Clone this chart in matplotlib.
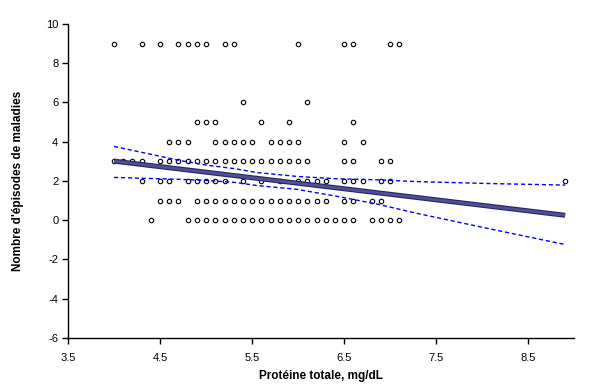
import numpy as np
import matplotlib
matplotlib.use("Agg")
import matplotlib.pyplot as plt

plt.rcParams['font.family'] = ['Liberation Sans', 'DejaVu Sans']
plt.rcParams['axes.unicode_minus'] = False

# points, grouped by y value
x_9 = [4.0, 4.3, 4.5, 4.7, 4.8, 4.9, 5.0, 5.2, 5.3, 6.0, 6.5, 6.6, 7.0, 7.1]
x_6 = [5.4, 6.1]
x_5 = [4.9, 5.0, 5.1, 5.6, 5.9, 6.6]
x_4 = [4.6, 4.7, 4.8, 5.1, 5.2, 5.3, 5.4, 5.5, 5.7, 5.8, 5.9, 6.0, 6.5, 6.7]
x_3 = [4.0, 4.1, 4.2, 4.3, 4.5, 4.6, 4.7, 4.8, 4.9, 5.0, 5.1, 5.2, 5.3, 5.4,
       5.5, 5.6, 5.7, 5.8, 5.9, 6.0, 6.1, 6.5, 6.6, 6.9, 7.0]
x_2 = [4.3, 4.5, 4.6, 4.8, 4.9, 5.0, 5.1, 5.2, 5.4, 5.6, 5.8, 6.0, 6.1, 6.2,
       6.3, 6.5, 6.6, 6.7, 6.9, 7.0, 8.9]
x_1 = [4.5, 4.6, 4.7, 4.9, 5.0, 5.1, 5.2, 5.3, 5.4, 5.5, 5.6, 5.7, 5.8, 5.9,
       6.0, 6.1, 6.2, 6.3, 6.5, 6.6, 6.8, 6.9]
x_0 = [4.4, 4.8, 4.9, 5.0, 5.1, 5.2, 5.3, 5.4, 5.5, 5.6, 5.7, 5.8, 5.9, 6.0,
       6.1, 6.2, 6.3, 6.4, 6.5, 6.6, 6.8, 6.9, 7.0, 7.1]

# regression line and confidence band (the source data
# has repeated points that can't be seen)
reg_x = [4.0, 8.9]
reg_y = [3.01, 0.25]
band_x = [4.0, 4.73, 5.0, 5.32, 5.55, 5.99, 6.42, 6.86, 7.27, 8.06, 8.9]
band_hi = [3.76, 3.03, 2.81, 2.62, 2.43, 2.23, 2.11, 2.06, 1.97, 1.87, 1.79]
band_lo = [2.18, 2.08, 2.03, 1.92, 1.77, 1.57, 1.22, 0.82, 0.37, -0.42, -1.24]

rows = {9: x_9, 6: x_6, 5: x_5, 4: x_4, 3: x_3, 2: x_2, 1: x_1, 0: x_0}
px = [x for v, xs in rows.items() for x in xs]
py = [v for v, xs in rows.items() for x in xs]

fig = plt.figure(figsize=(6.1, 3.84), dpi=100)
ax = fig.add_axes([0.1115, 0.12, 0.83, 0.8175])

ax.plot(px, py, 'o', ms=3.2, mfc='white', mec='black', mew=0.8, zorder=2)
ax.plot(reg_x, reg_y, color='#26265e', lw=3.6, solid_capstyle='butt', zorder=3)
ax.plot(reg_x, reg_y, color='#4f4f96', lw=2.0, solid_capstyle='butt', zorder=4)
ax.plot(band_x, band_hi, color='#0000ff', lw=1, dashes=(3, 2), zorder=3)
ax.plot(band_x, band_lo, color='#0000ff', lw=1, dashes=(3, 2), zorder=3)

ax.set_xlim(3.5, 9.0)
ax.set_ylim(-6, 10)
ax.set_xticks([3.5, 4.5, 5.5, 6.5, 7.5, 8.5])
ax.set_xticklabels(['3.5', '4.5', '5.5', '6.5', '7.5', '8.5'])
ax.set_yticks(range(-6, 11, 2))
ax.tick_params(direction='out', length=4, width=1, labelsize=8, pad=3)
ax.tick_params(axis='x', pad=7)
for side in ['top', 'right']:
    ax.spines[side].set_visible(False)
for side in ['left', 'bottom']:
    ax.spines[side].set_linewidth(1)

ax.set_xlabel('Protéine totale, mg/dL', fontsize=8.5, fontweight='bold', labelpad=5)
ax.set_ylabel("Nombre d'épisodes de maladies", fontsize=8.5, fontweight='bold', labelpad=16)

fig.savefig('out.png', dpi=100)
